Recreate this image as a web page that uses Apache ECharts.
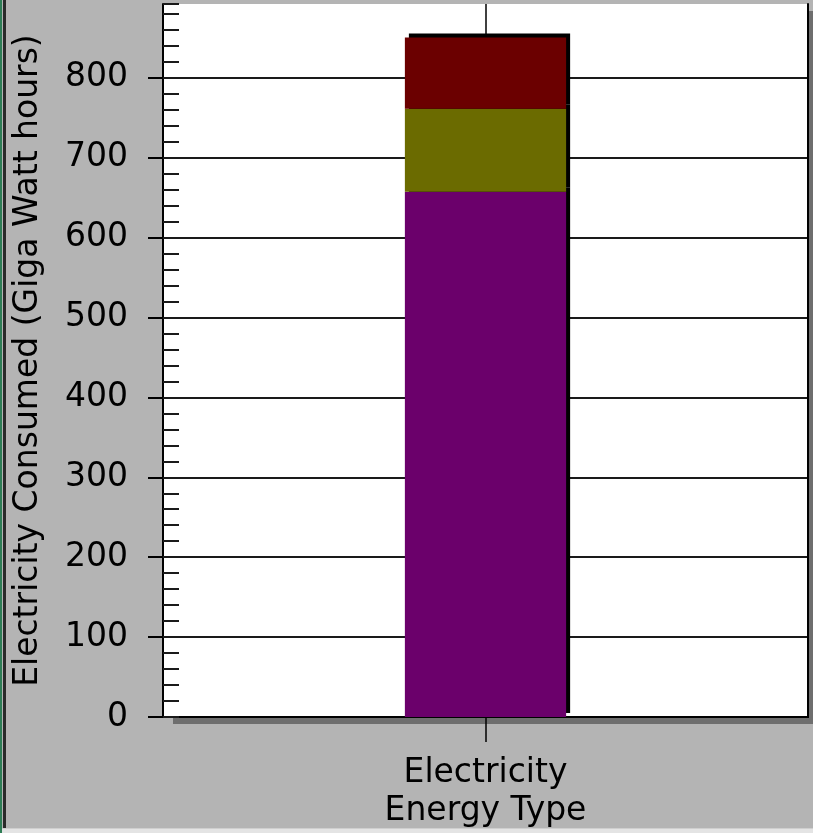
<!DOCTYPE html>
<html>
<head>
<meta charset="utf-8">
<script src="https://cdn.jsdelivr.net/npm/echarts@6/dist/echarts.min.js"></script>
<style>
  html, body { margin: 0; padding: 0; background: #b4b4b4; }
  #wrap { position: relative; width: 813px; height: 833px; overflow: hidden; }
  #chart { position: absolute; left: 0; top: 0; width: 813px; height: 833px; }
  .edgeL1 { position: absolute; left: 0; top: 0; width: 2px; height: 833px; background: #2e7d55; }
  .edgeL2 { position: absolute; left: 3px; top: 0; width: 3px; height: 828px; background: #2a2a2a; }
  .edgeB { position: absolute; left: 2px; top: 828px; width: 811px; height: 5px; background: #e4e4e4; border-top: 1px solid #cfcfcf; box-sizing: border-box; }
</style>
</head>
<body>
<div id="wrap">
  <div id="chart"></div>
  <div class="edgeL1"></div>
  <div class="edgeL2"></div>
  <div class="edgeB"></div>
</div>
<script>
// Energy consumption, stacked by component
const categories = ['Electricity'];
const seriesNames = ['Base', 'Middle', 'Top'];
const baseValues = [657];
const middleValues = [104];
const topValues = [89];
const seriesColors = ['#6b006b', '#6b6b00', '#6b0000'];
const yTickValues = [0, 100, 200, 300, 400, 500, 600, 700, 800];
const yAxisTitle = 'Electricity Consumed (Giga Watt hours)';
const xAxisTitle = 'Energy Type';

const FONT = 'DejaVu Sans';
const FONT_SIZE = 33;
const yMax = 892;

const chart = echarts.init(document.getElementById('chart'), null, { renderer: 'canvas' });

const valuesList = [baseValues, middleValues, topValues];
const series = valuesList.map((vals, i) => ({
  name: seriesNames[i],
  type: 'bar',
  stack: 'total',
  data: vals,
  barWidth: '25%',
  xAxisIndex: 0,
  yAxisIndex: 0,
  itemStyle: {
    color: seriesColors[i],
    shadowColor: '#000',
    shadowBlur: 0,
    shadowOffsetX: 4,
    shadowOffsetY: -4
  },
  emphasis: { disabled: true },
  animation: false
}));

// vertical line through the category centre, behind the bars
series[0].markLine = {
  silent: true,
  symbol: 'none',
  z: 1,
  label: { show: false },
  lineStyle: { color: '#000', width: 1.5, type: 'solid' },
  data: [{ xAxis: categories[0] }],
  animation: false
};

const frameLine = { show: true, lineStyle: { color: '#000', width: 2 } };

chart.setOption({
  backgroundColor: '#b4b4b4',
  animation: false,
  grid: {
    left: 163,
    top: 4,
    right: 5,
    bottom: 115,
    show: true,
    backgroundColor: '#ffffff',
    borderWidth: 0,
    shadowColor: '#6e6e6e',
    shadowBlur: 0,
    shadowOffsetX: 10,
    shadowOffsetY: 7
  },
  xAxis: [
    {
      type: 'category',
      data: categories,
      boundaryGap: true,
      position: 'bottom',
      name: xAxisTitle,
      nameLocation: 'middle',
      nameGap: 75,
      nameTextStyle: { fontFamily: FONT, fontSize: FONT_SIZE, color: '#000' },
      axisLine: frameLine,
      axisTick: { show: true, alignWithLabel: true, length: 25, lineStyle: { color: '#000', width: 1.5 } },
      axisLabel: { fontFamily: FONT, fontSize: FONT_SIZE, color: '#000', margin: 40 },
      splitLine: { show: false }
    },
    {
      // top edge of the plot frame
      type: 'category',
      data: categories,
      position: 'top',
      axisLine: frameLine,
      axisTick: { show: false },
      axisLabel: { show: false },
      splitLine: { show: false }
    }
  ],
  yAxis: [
    {
      type: 'value',
      min: 0,
      max: yMax,
      interval: 100,
      position: 'left',
      name: yAxisTitle,
      nameLocation: 'middle',
      nameGap: 118,
      nameRotate: 90,
      nameTextStyle: { fontFamily: FONT, fontSize: FONT_SIZE, color: '#000' },
      axisLine: frameLine,
      axisTick: { show: true, inside: false, length: 15, customValues: yTickValues, lineStyle: { color: '#000', width: 2 } },
      axisLabel: { fontFamily: FONT, fontSize: FONT_SIZE, color: '#000', margin: 35, customValues: yTickValues },
      splitLine: { show: true, lineStyle: { color: '#1a1a1a', width: 2 } }
    },
    {
      // minor ticks every 20, drawn inside the plot
      type: 'value',
      min: 0,
      max: yMax,
      interval: 20,
      position: 'left',
      axisLine: { show: false },
      axisTick: { show: true, inside: true, length: 16, lineStyle: { color: '#1a1a1a', width: 2 } },
      axisLabel: { show: false },
      splitLine: { show: false }
    },
    {
      // right edge of the plot frame
      type: 'value',
      min: 0,
      max: yMax,
      position: 'right',
      axisLine: frameLine,
      axisTick: { show: false },
      axisLabel: { show: false },
      splitLine: { show: false }
    }
  ],
  series: series
});
</script>
</body>
</html>
